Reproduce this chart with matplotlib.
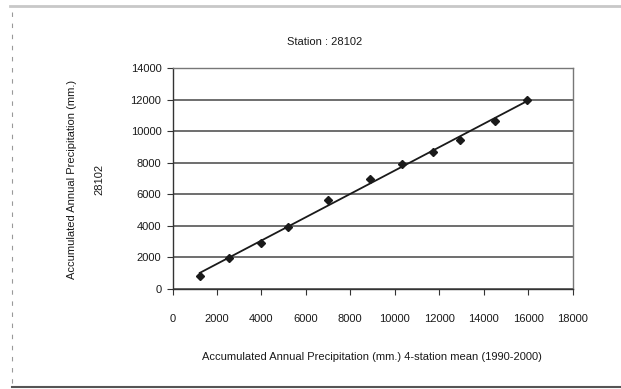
import numpy as np
import matplotlib.pyplot as plt
from matplotlib.lines import Line2D

plt.rcParams['font.family'] = ['Liberation Sans', 'DejaVu Sans']

# 4-station mean accumulated precipitation (x) vs station 28102 (y)
mean_4st = [1230, 2530, 3970, 5200, 6990, 8890, 10330, 11740, 12950, 14510, 15970]
st_28102 = [830, 1950, 2940, 3910, 5650, 6980, 7910, 8710, 9450, 10660, 11950]

xticks = [0, 2000, 4000, 6000, 8000, 10000, 12000, 14000, 16000, 18000]
yticks = [0, 2000, 4000, 6000, 8000, 10000, 12000, 14000]

fig = plt.figure(figsize=(6.21, 3.89), dpi=100)
ax = fig.add_axes([172.5/621, 1-289/389, 400/621, 221/389])

x = np.array(mean_4st)
y = np.array(st_28102)
k, b = np.polyfit(x, y, 1)
xl = np.array([x.min(), x.max()])
ax.plot(xl, k*xl+b, color='#1a1a1a', lw=1.3, zorder=3)
ax.plot(x, y, 'D', color='#1a1a1a', ms=4.5, zorder=4)

ax.set_xlim(0, 18000)
ax.set_ylim(0, 14000)
ax.set_xticks(xticks)
ax.set_yticks(yticks)
ax.set_xticklabels([str(v) for v in xticks], fontsize=8, color='#1a1a1a')
ax.set_yticklabels([str(v) for v in yticks], fontsize=8, color='#1a1a1a')
ax.tick_params(axis='x', direction='out', length=4, pad=14, color='#333333')
ax.tick_params(axis='y', direction='out', length=4, pad=4, color='#333333')
ax.yaxis.grid(True, color='#555555', lw=1.2)
ax.set_axisbelow(True)
for s in ax.spines.values():
    s.set_color('#777777')
    s.set_linewidth(1.0)
ax.spines['left'].set_color('#333333')
ax.spines['bottom'].set_color('#333333')

fig.text(325/621, 1-42/389, 'Station : 28102', fontsize=8, ha='center', va='center', color='#1a1a1a')
fig.text(72/621, 1-179/389, 'Accumulated Annual Precipitation (mm.)', fontsize=8,
         rotation=90, ha='center', va='center', color='#1a1a1a')
fig.text(99/621, 1-179/389, '28102', fontsize=8, rotation=90, ha='center', va='center', color='#1a1a1a')
fig.text(372/621, 1-357/389, 'Accumulated Annual Precipitation (mm.) 4-station mean (1990-2000)',
         fontsize=8, ha='center', va='center', color='#1a1a1a')

# scanned chart frame: grey top edge, faint dashed left edge, dark bottom edge
fig.add_artist(Line2D([10/621, 1], [1-6/389, 1-6/389], transform=fig.transFigure,
                      color='#c8c8c8', lw=2.0))
fig.add_artist(Line2D([12/621, 12/621], [1-12/389, 1-387/389], transform=fig.transFigure,
                      color='#999999', lw=0.8, ls=(0, (4, 6))))
fig.add_artist(Line2D([12/621, 1], [1-387/389, 1-387/389], transform=fig.transFigure,
                      color='#555555', lw=1.5))

fig.savefig('out.png', dpi=100)
